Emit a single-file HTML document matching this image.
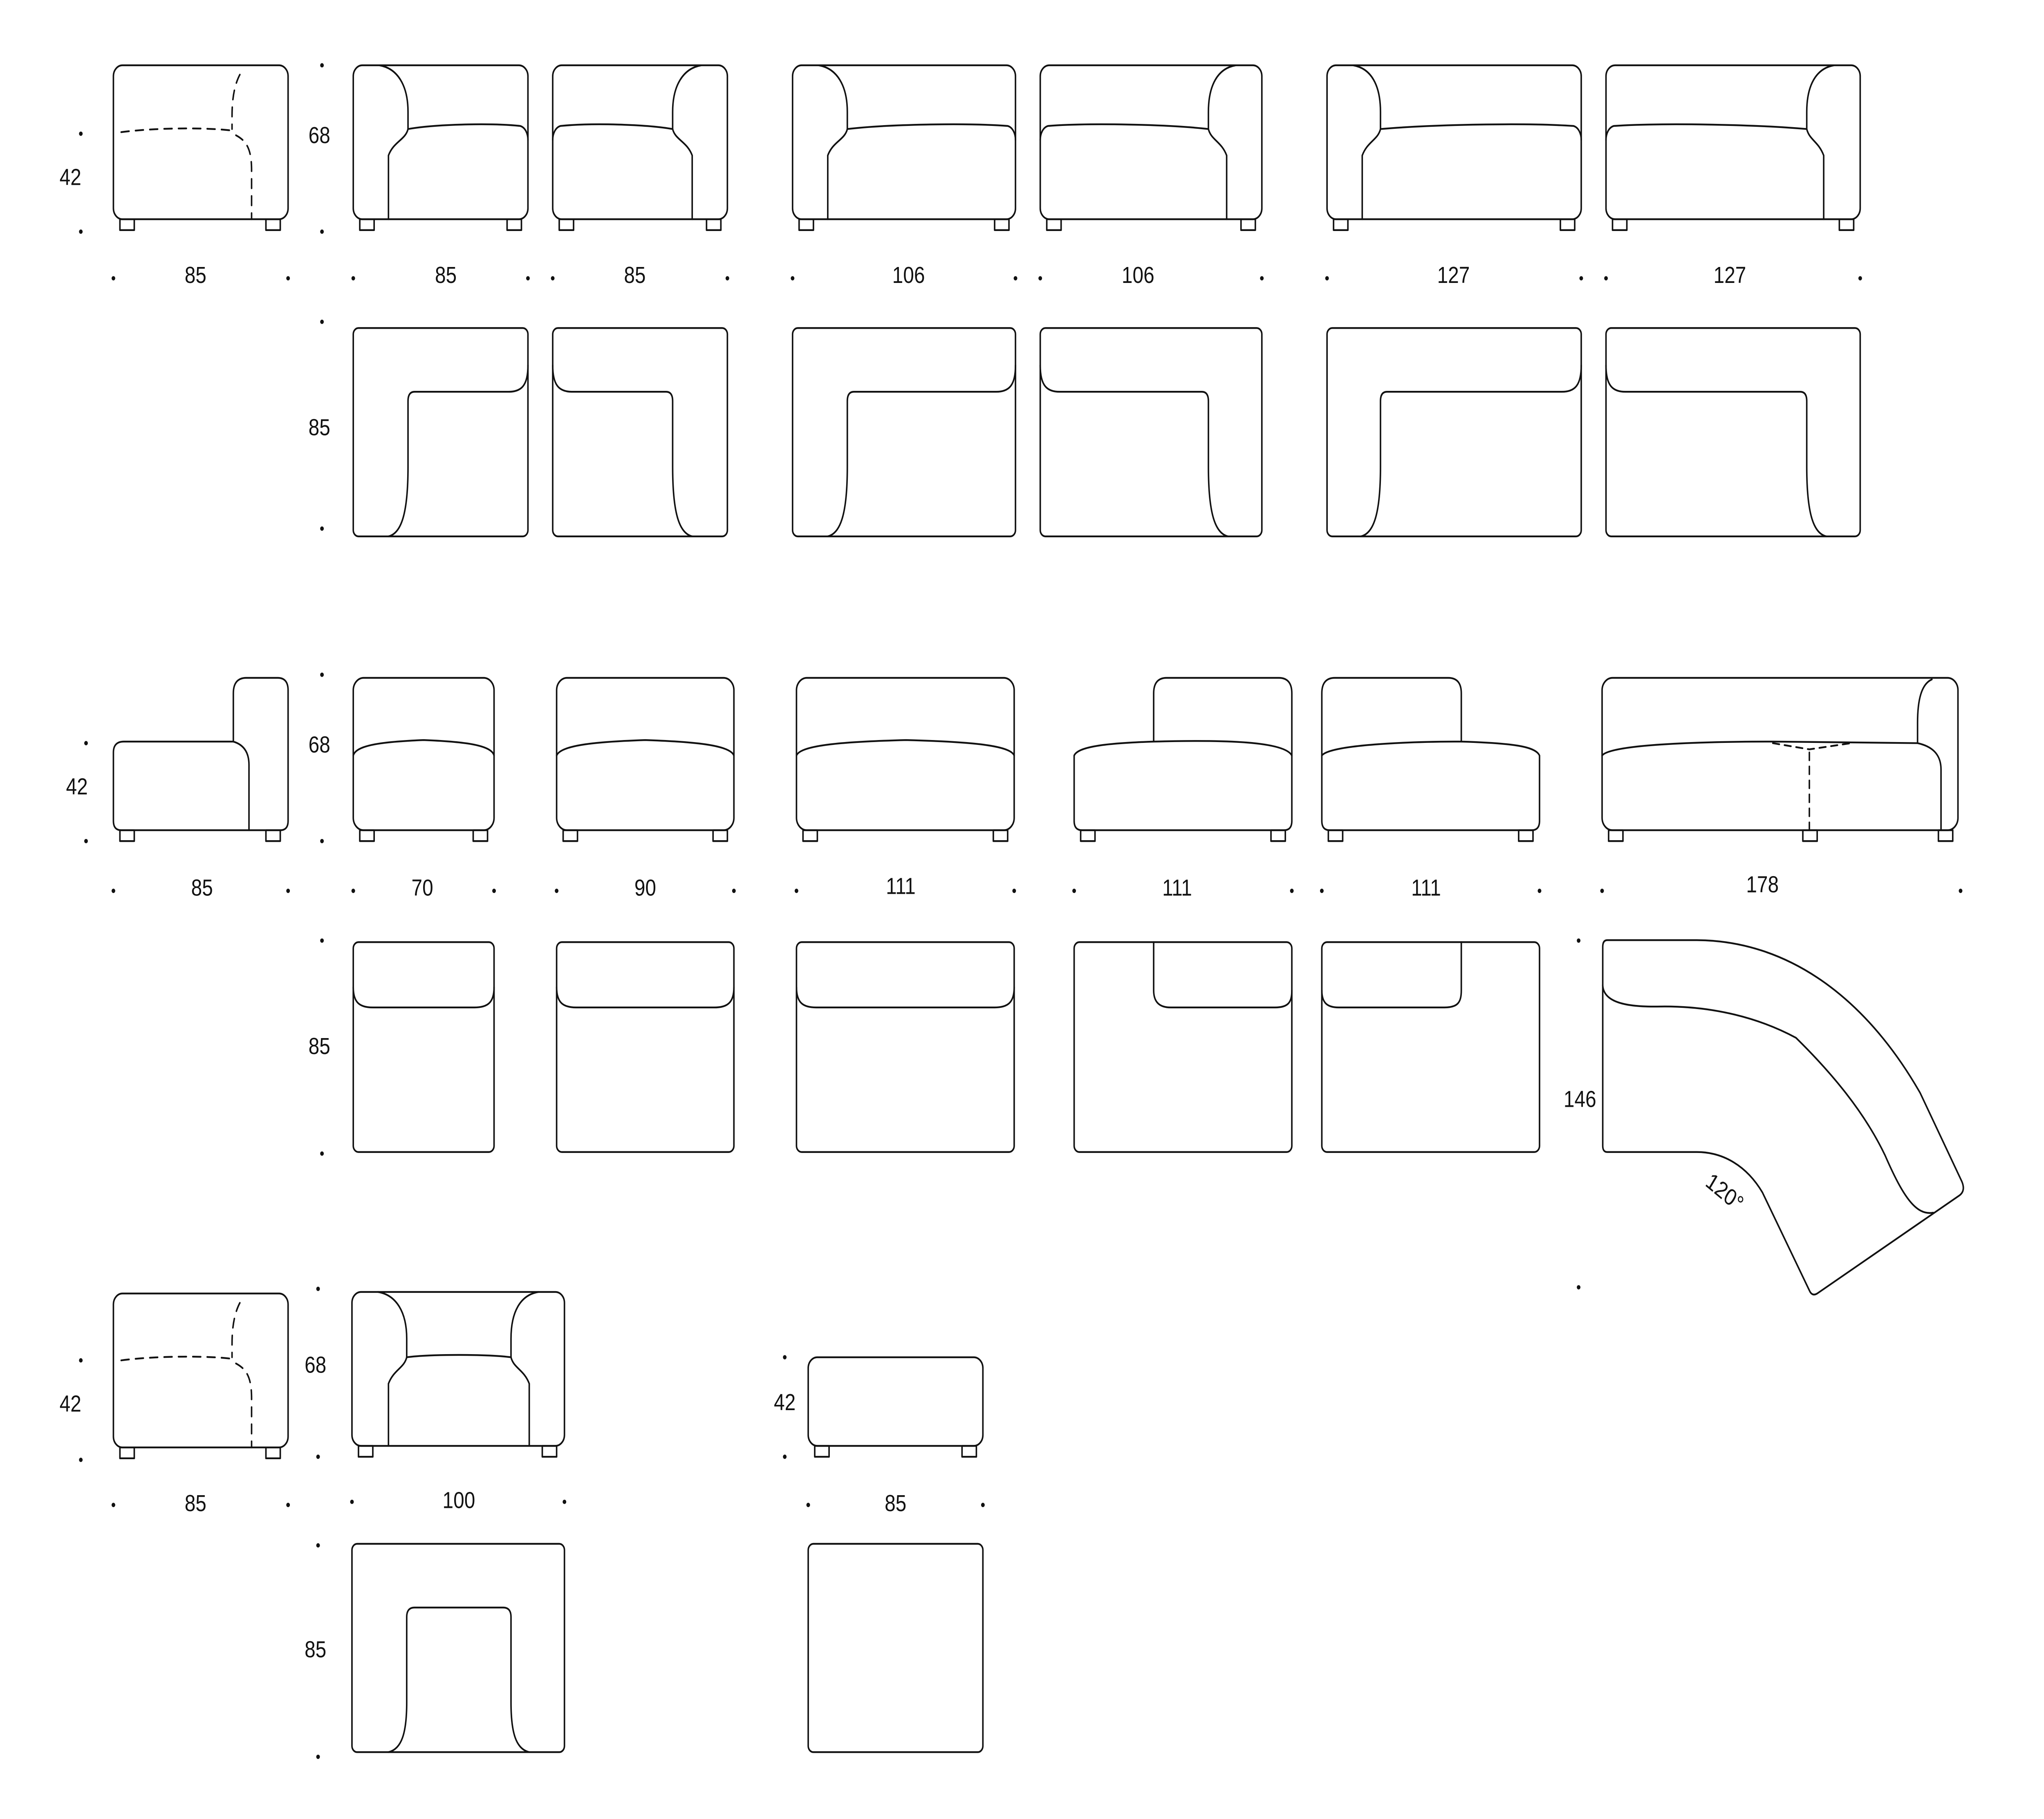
<!DOCTYPE html>
<html><head><meta charset="utf-8"><style>
html,body{margin:0;padding:0;background:#fff;width:100%;height:100%;overflow:hidden}
svg{display:block;width:100vw;height:100vh}
text{font-family:"Liberation Sans",sans-serif;font-size:15px;fill:#111;text-anchor:middle}
</style></head><body>
<svg viewBox="0 0 1568 1170" preserveAspectRatio="none" xmlns="http://www.w3.org/2000/svg">
<rect width="1568" height="1170" fill="#fff"/>
<g fill="none" stroke="#111" stroke-width="1.15" stroke-linejoin="round" stroke-linecap="round">

<g>
<rect x="87" y="42" width="134" height="99" rx="7"/>
<rect x="92" y="141" width="11" height="7"/><rect x="204" y="141" width="11" height="7"/>
<g stroke-dasharray="6,5">
<path d="M184,48 C179,56 178,66 178,75 L178,83"/>
<path d="M93,85 C120,82 160,82 178,84"/>
<path d="M181,87 C190,91 193,97 193,110 L193,141"/>
</g>
</g>
<g>
<rect x="271" y="42" width="134" height="99" rx="7"/>
<rect x="276" y="141" width="11" height="7"/><rect x="389" y="141" width="11" height="7"/>
<path d="M291,42 C305,44 313,55 313,72 L313,83 C311,90 302,91 298,100 L298,141"/>
<path d="M313,83 C333,80 375,79 399,81 C403,82 405,86 405,90"/>
</g>
<g transform="translate(982,0) scale(-1,1)">
<rect x="424" y="42" width="134" height="99" rx="7"/>
<rect x="429" y="141" width="11" height="7"/><rect x="542" y="141" width="11" height="7"/>
<path d="M444,42 C458,44 466,55 466,72 L466,83 C464,90 455,91 451,100 L451,141"/>
<path d="M466,83 C486,80 528,79 552,81 C556,82 558,86 558,90"/>
</g>
<g>
<rect x="608" y="42" width="171" height="99" rx="7"/>
<rect x="613" y="141" width="11" height="7"/><rect x="763" y="141" width="11" height="7"/>
<path d="M628,42 C642,44 650,55 650,72 L650,83 C648,90 639,91 635,100 L635,141"/>
<path d="M650,83 C680,80 740,79 773,81 C777,82 779,86 779,90"/>
</g>
<g transform="translate(1766,0) scale(-1,1)">
<rect x="798" y="42" width="170" height="99" rx="7"/>
<rect x="803" y="141" width="11" height="7"/><rect x="952" y="141" width="11" height="7"/>
<path d="M818,42 C832,44 839,55 839,72 L839,83 C837,90 829,91 825,100 L825,141"/>
<path d="M839,83 C870,80 930,79 962,81 C966,82 968,86 968,90"/>
</g>
<g>
<rect x="1018" y="42" width="195" height="99" rx="7"/>
<rect x="1023" y="141" width="11" height="7"/><rect x="1197" y="141" width="11" height="7"/>
<path d="M1038,42 C1052,44 1059,55 1059,72 L1059,83 C1057,90 1049,91 1045,100 L1045,141"/>
<path d="M1059,83 C1100,80 1170,79 1207,81 C1211,82 1213,86 1213,90"/>
</g>
<g transform="translate(2659,0) scale(-1,1)">
<rect x="1232" y="42" width="195" height="99" rx="7"/>
<rect x="1237" y="141" width="11" height="7"/><rect x="1411" y="141" width="11" height="7"/>
<path d="M1252,42 C1266,44 1273,55 1273,72 L1273,83 C1271,90 1264,91 1260,100 L1260,141"/>
<path d="M1273,83 C1314,80 1384,79 1421,81 C1425,82 1427,86 1427,90"/>
</g>

<g>
<rect x="271" y="211" width="134" height="134" rx="4"/>
<path d="M405,235 C405,248 400,252 390,252 L318,252 Q313,252 313,258 L313,300 C313,330 308,343 298,345"/>
</g>
<g transform="translate(982,0) scale(-1,1)">
<rect x="424" y="211" width="134" height="134" rx="4"/>
<path d="M558,235 C558,248 553,252 543,252 L471,252 Q466,252 466,258 L466,300 C466,330 461,343 451,345"/>
</g>
<g>
<rect x="608" y="211" width="171" height="134" rx="4"/>
<path d="M779,235 C779,248 774,252 764,252 L655,252 Q650,252 650,258 L650,300 C650,330 645,343 635,345"/>
</g>
<g transform="translate(1766,0) scale(-1,1)">
<rect x="798" y="211" width="170" height="134" rx="4"/>
<path d="M968,235 C968,248 963,252 953,252 L844,252 Q839,252 839,258 L839,300 C839,330 834,343 824,345"/>
</g>
<g>
<rect x="1018" y="211" width="195" height="134" rx="4"/>
<path d="M1213,235 C1213,248 1208,252 1198,252 L1064,252 Q1059,252 1059,258 L1059,300 C1059,330 1054,343 1044,345"/>
</g>
<g transform="translate(2659,0) scale(-1,1)">
<rect x="1232" y="211" width="195" height="134" rx="4"/>
<path d="M1427,235 C1427,248 1422,252 1412,252 L1278,252 Q1273,252 1273,258 L1273,300 C1273,330 1268,343 1258,345"/>
</g>

<path d="M93,534 Q87,534 87,528 L87,484 Q87,477 95,477 L179,477 L179,446 Q179,436 189,436 L213,436 Q221,436 221,444 L221,528 Q221,534 215,534 Z"/>
<path d="M179,477 C187,479 191,484 191,492 L191,534"/>
<rect x="92" y="534" width="11" height="7"/><rect x="204" y="534" width="11" height="7"/>
<rect x="271" y="436" width="108" height="98" rx="8"/>
<path d="M271,486 C273,479 295,477 325,476 C355,477 377,479 379,486"/>
<rect x="276" y="534" width="11" height="7"/><rect x="363" y="534" width="11" height="7"/>
<rect x="427" y="436" width="136" height="98" rx="8"/>
<path d="M427,486 C430,479 460,477 495,476 C530,477 560,479 563,486"/>
<rect x="432" y="534" width="11" height="7"/><rect x="547" y="534" width="11" height="7"/>
<rect x="611" y="436" width="167" height="98" rx="8"/>
<path d="M611,486 C614,479 650,477 695,476 C740,477 775,479 778,486"/>
<rect x="616" y="534" width="11" height="7"/><rect x="762" y="534" width="11" height="7"/>
<path d="M885,446 Q885,436 895,436 L981,436 Q991,436 991,446 L991,528 Q991,534 985,534 L830,534 Q824,534 824,528 L824,486 C827,480 850,478 885,477 Z"/>
<path d="M885,477 C930,476 985,476 991,486"/>
<rect x="829" y="534" width="11" height="7"/><rect x="975" y="534" width="11" height="7"/>
<path d="M1014,446 Q1014,436 1024,436 L1111,436 Q1121,436 1121,446 L1121,477 C1160,478 1178,480 1181,486 L1181,528 Q1181,534 1175,534 L1020,534 Q1014,534 1014,528 Z"/>
<path d="M1014,486 C1020,479 1080,477 1121,477"/>
<rect x="1019" y="534" width="11" height="7"/><rect x="1165" y="534" width="11" height="7"/>
<rect x="1229" y="436" width="273" height="98" rx="8"/>
<path d="M1482,437 C1474,440 1471,450 1471,465 L1471,478 C1482,480 1489,485 1489,495 L1489,534"/>
<path d="M1229,486 C1235,479 1300,477 1360,477 L1471,478"/>
<g stroke-dasharray="5,4"><path d="M1360,478 L1388,482 L1420,478"/><path d="M1388,484 L1388,534"/></g>
<rect x="1234" y="534" width="11" height="7"/><rect x="1383" y="534" width="11" height="7"/><rect x="1487" y="534" width="11" height="7"/>

<rect x="271" y="606" width="108" height="135" rx="4"/>
<path d="M271,635 C271,645 276,648 286,648 L364,648 C374,648 379,645 379,635"/>
<rect x="427" y="606" width="136" height="135" rx="4"/>
<path d="M427,635 C427,645 432,648 442,648 L548,648 C558,648 563,645 563,635"/>
<rect x="611" y="606" width="167" height="135" rx="4"/>
<path d="M611,635 C611,645 616,648 626,648 L763,648 C773,648 778,645 778,635"/>
<rect x="824" y="606" width="167" height="135" rx="4"/>
<path d="M885,606 L885,637 C885,645 890,648 898,648 L978,648 C988,648 991,645 991,637"/>
<rect x="1014" y="606" width="167" height="135" rx="4"/>
<path d="M1014,637 C1014,645 1018,648 1027,648 L1108,648 C1118,648 1121,645 1121,637 L1121,606"/>
<path d="M1233,604.7 L1301.7,604.7 C1370,605 1430,640 1473,703 L1505,760 Q1508,766 1503,769 L1394,832 Q1390,834 1388,830 L1352,767 C1340,750 1322,741 1301.7,741 L1233,741 Q1229.5,741 1229.5,737 L1229.5,609 Q1229.5,604.7 1233,604.7 Z"/>
<path d="M1229.5,633.7 C1230,644 1245,648 1274,647.4 C1315,647 1350,655 1377.7,667.5 C1405,690 1430,715 1446,743 C1460,770 1470,782 1483,780"/>

<g transform="translate(0,790)">
<rect x="87" y="42" width="134" height="99" rx="7"/>
<rect x="92" y="141" width="11" height="7"/><rect x="204" y="141" width="11" height="7"/>
<g stroke-dasharray="6,5">
<path d="M184,48 C179,56 178,66 178,75 L178,83"/>
<path d="M93,85 C120,82 160,82 178,84"/>
<path d="M181,87 C190,91 193,97 193,110 L193,141"/>
</g>
</g>
<rect x="270" y="831" width="163" height="99" rx="7"/>
<path d="M290,831 C304,833 312,844 312,861 L312,873 C310,880 302,881 298,890 L298,930"/>
<path d="M413,831 C399,833 392,844 392,861 L392,873 C394,880 402,881 406,890 L406,930"/>
<path d="M312,873 C330,871 374,871 392,873"/>
<rect x="275" y="930" width="11" height="7"/><rect x="416" y="930" width="11" height="7"/>
<rect x="620" y="873" width="134" height="57" rx="7"/>
<rect x="625" y="930" width="11" height="7"/><rect x="738" y="930" width="11" height="7"/>

<rect x="270" y="993" width="163" height="134" rx="4"/>
<path d="M298,1127 C308,1125 312,1115 312,1095 L312,1040 Q312,1034 318,1034 L386,1034 Q392,1034 392,1040 L392,1095 C392,1115 396,1125 406,1127"/>
<rect x="620" y="993" width="134" height="134" rx="4"/>
</g>

<g fill="#111">
<circle cx="62" cy="86" r="1.4"/><circle cx="62" cy="149" r="1.4"/>
<circle cx="247" cy="42" r="1.4"/><circle cx="247" cy="149" r="1.4"/>
<circle cx="87" cy="179" r="1.4"/><circle cx="221" cy="179" r="1.4"/>
<circle cx="271" cy="179" r="1.4"/><circle cx="405" cy="179" r="1.4"/>
<circle cx="424" cy="179" r="1.4"/><circle cx="558" cy="179" r="1.4"/>
<circle cx="608" cy="179" r="1.4"/><circle cx="779" cy="179" r="1.4"/>
<circle cx="798" cy="179" r="1.4"/><circle cx="968" cy="179" r="1.4"/>
<circle cx="1018" cy="179" r="1.4"/><circle cx="1213" cy="179" r="1.4"/>
<circle cx="1232" cy="179" r="1.4"/><circle cx="1427" cy="179" r="1.4"/>
<circle cx="247" cy="207" r="1.4"/><circle cx="247" cy="340" r="1.4"/>
<circle cx="66" cy="478" r="1.4"/><circle cx="66" cy="541" r="1.4"/>
<circle cx="247" cy="434" r="1.4"/><circle cx="247" cy="541" r="1.4"/>
<circle cx="87" cy="573" r="1.4"/><circle cx="221" cy="573" r="1.4"/>
<circle cx="271" cy="573" r="1.4"/><circle cx="379" cy="573" r="1.4"/>
<circle cx="427" cy="573" r="1.4"/><circle cx="563" cy="573" r="1.4"/>
<circle cx="611" cy="573" r="1.4"/><circle cx="778" cy="573" r="1.4"/>
<circle cx="824" cy="573" r="1.4"/><circle cx="991" cy="573" r="1.4"/>
<circle cx="1014" cy="573" r="1.4"/><circle cx="1181" cy="573" r="1.4"/>
<circle cx="1229" cy="573" r="1.4"/><circle cx="1504" cy="573" r="1.4"/>
<circle cx="247" cy="605" r="1.4"/><circle cx="247" cy="742" r="1.4"/>
<circle cx="1211" cy="605" r="1.4"/><circle cx="1211" cy="828" r="1.4"/>
<circle cx="62" cy="875" r="1.4"/><circle cx="62" cy="939" r="1.4"/>
<circle cx="244" cy="829" r="1.4"/><circle cx="244" cy="937" r="1.4"/>
<circle cx="602" cy="873" r="1.4"/><circle cx="602" cy="937" r="1.4"/>
<circle cx="87" cy="968" r="1.4"/><circle cx="221" cy="968" r="1.4"/>
<circle cx="270" cy="966" r="1.4"/><circle cx="433" cy="966" r="1.4"/>
<circle cx="620" cy="968" r="1.4"/><circle cx="754" cy="968" r="1.4"/>
<circle cx="244" cy="994" r="1.4"/><circle cx="244" cy="1130" r="1.4"/>
</g>

<text x="54" y="119">42</text>
<text x="245" y="92">68</text>
<text x="150" y="182">85</text><text x="342" y="182">85</text><text x="487" y="182">85</text>
<text x="697" y="182">106</text><text x="873" y="182">106</text>
<text x="1115" y="182">127</text><text x="1327" y="182">127</text>
<text x="245" y="280">85</text>
<text x="59" y="511">42</text>
<text x="245" y="484">68</text>
<text x="155" y="576">85</text><text x="324" y="576">70</text><text x="495" y="576">90</text>
<text x="691" y="575">111</text><text x="903" y="576">111</text><text x="1094" y="576">111</text>
<text x="1352" y="574">178</text>
<text x="245" y="678">85</text>
<text x="1212" y="712">146</text>
<text x="1323" y="772" transform="rotate(35 1323 767)">120°</text>
<text x="54" y="908">42</text>
<text x="242" y="883">68</text>
<text x="602" y="907">42</text>
<text x="150" y="972">85</text><text x="352" y="970">100</text><text x="687" y="972">85</text>
<text x="242" y="1066">85</text>
</svg>
</body></html>
